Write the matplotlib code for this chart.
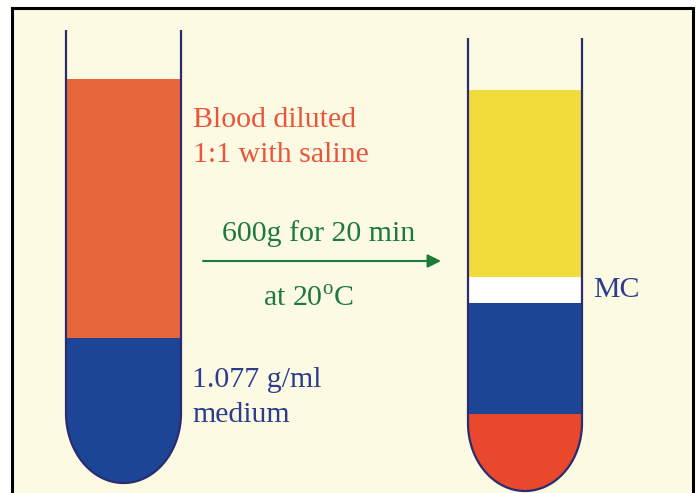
import numpy as np
import matplotlib.pyplot as plt
from matplotlib.patches import Polygon, Rectangle

plt.rcParams['font.family'] = ['Liberation Serif', 'DejaVu Serif']
plt.rcParams['mathtext.fontset'] = 'custom'
plt.rcParams['mathtext.rm'] = 'Liberation Serif'

# colours
bg = '#fcfae3'
navy = '#2b2b70'
orange = '#e8673a'
blue = '#1d4596'
yellow = '#f2dc3c'
red = '#e8482c'
green = '#1c7a3c'
txt_red = '#e8553a'
txt_blue = '#2b3d8c'

# tube layers (pixel levels, top of each layer) before / after spin
left_layers = ['blood + saline', 'medium']
left_tops = [79, 338]
left_colors = [orange, blue]

right_layers = ['plasma', 'MC', 'medium', 'RBC']
right_tops = [90, 277, 303, 414]
right_colors = [yellow, 'white', blue, red]

# tube geometry: x left, x right, rim top, ellipse centre, bottom
left_tube = (66, 181, 30, 413, 483)
right_tube = (468, 582, 38, 423, 491)


def tube_outline(xl, xr, top, yc, bottom):
    t = np.linspace(np.pi, 0, 80)
    a = (xr - xl) / 2
    b = bottom - yc
    xs = (xl + xr) / 2 + a * np.cos(t)
    ys = yc + b * np.sin(t)
    x = np.concatenate([[xl], xs, [xr]])
    y = np.concatenate([[top], ys, [top]])
    return x, y


def draw_tube(ax, geom, tops, colors):
    xl, xr, top, yc, bottom = geom
    x, y = tube_outline(*geom)
    clip = Polygon(np.column_stack([x, y]), closed=True, fc='none', ec='none')
    ax.add_patch(clip)
    edges = list(tops) + [bottom + 5]
    for i, c in enumerate(colors):
        r = Rectangle((xl - 2, edges[i]), xr - xl + 4, edges[i + 1] - edges[i],
                      fc=c, ec='none', zorder=1)
        ax.add_patch(r)
        r.set_clip_path(clip)
    ax.plot(x, y, color=navy, lw=1.6, zorder=3, solid_capstyle='butt')


fig = plt.figure(figsize=(6.98, 4.93), dpi=100)
ax = fig.add_axes([0, 0, 1, 1])
ax.set_xlim(0, 698)
ax.set_ylim(493, 0)
ax.axis('off')
fig.patch.set_facecolor('white')

# framed cream panel
ax.add_patch(Rectangle((12, 8), 681, 500, fc=bg, ec='black', lw=2.2, zorder=0))

draw_tube(ax, left_tube, left_tops, left_colors)
draw_tube(ax, right_tube, right_tops, right_colors)

fs = 21.5
ax.text(193, 127, 'Blood diluted', color=txt_red, fontsize=fs, va='baseline')
ax.text(193, 162, '1:1 with saline', color=txt_red, fontsize=fs, va='baseline')

ax.text(222, 241, '600g for 20 min', color=green, fontsize=fs, va='baseline')
ax.annotate('', xy=(441, 261), xytext=(203, 261),
            arrowprops=dict(arrowstyle='-|>', color=green, lw=1.5,
                            mutation_scale=20, shrinkA=0, shrinkB=0))
ax.text(263, 307, r'at 20$^{\mathrm{o}}$C', color=green, fontsize=fs, va='baseline')

ax.text(192, 387, '1.077 g/ml', color=txt_blue, fontsize=fs, va='baseline')
ax.text(192, 422, 'medium', color=txt_blue, fontsize=fs, va='baseline')

ax.text(593, 297, 'MC', color=txt_blue, fontsize=fs, va='baseline')

fig.savefig('out.png', dpi=100)
